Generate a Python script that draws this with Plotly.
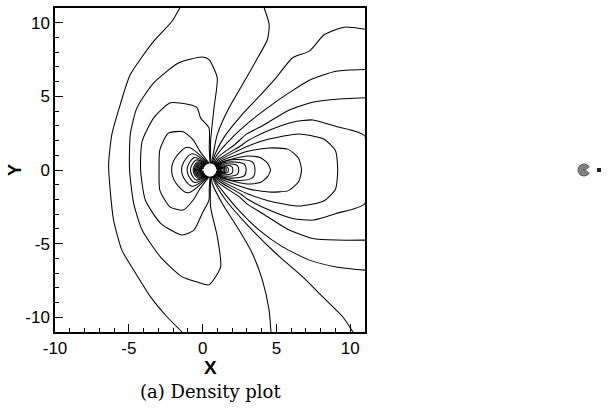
import math
import plotly.graph_objects as go

# ---------------- traced contour lines (data coordinates) ----------------
A_x = [-1.55, -2.07, -3.31, -4.9, -5.58, -6.15, -6.37, -6.25, -6.03, -5.47, -4.67, -3.54, -2.4, -1.39]
A_y = [11.0, 10.1, 8.75, 6.48, 4.44, 2.4, 0.36, -1.5, -3.4, -5.44, -6.8, -8.6, -9.98, -11.0]

B_x = [0.547, 0.54, 0.77, 0.99, 0.43, -0.03, -1.61, -3.31, -4.45, -4.9, -4.95, -4.67, -4.1, -2.86, -1.39, -0.37, 0.43, 1.22, 0.99, 0.54, 0.547]
B_y = [0.448, 1.95, 4.2, 6.26, 7.5, 7.67, 7.28, 5.92, 4.22, 2.4, 0.0, -2.27, -4.08, -5.9, -7.26, -7.6, -7.8, -6.58, -4.5, -2.5, -0.448]

C_x = [0.5, 0.45, 0.43, -0.14, -0.37, -0.93, -2.18, -3.31, -4.1, -4.2, -3.88, -2.86, -1.39, -0.59, -0.03, 0.43, 0.45, 0.5]
C_y = [0.45, 1.5, 2.86, 3.54, 4.22, 4.44, 4.56, 3.54, 1.95, 0.0, -2.04, -3.6, -4.42, -4.08, -2.95, -2.04, -1.3, -0.45]

D_x = [0.445, -0.2, -0.64, -1.32, -2.34, -2.9, -2.95, -2.9, -2.22, -1.32, -0.64, -0.2, 0.445]
D_y = [0.447, 1.3, 2.04, 2.6, 2.49, 1.36, 0.0, -1.36, -2.5, -2.72, -2.04, -1.3, -0.447]

F1_x = [0.594, 0.72, 0.99, 1.79, 2.7, 3.6, 4.39, 4.51, 4.17]
F1_y = [0.44, 1.1, 2.4, 4.22, 5.8, 7.39, 8.86, 9.88, 11.0]
F2_x = [0.639, 0.85, 1.5, 2.7, 3.83, 4.97, 6.1, 7.23, 8.25, 9.61, 11.0]
F2_y = [0.428, 1.1, 2.3, 3.8, 5.0, 6.26, 7.62, 8.07, 9.2, 9.7, 9.55]
F3_x = [0.676, 0.95, 1.9, 3.15, 4.51, 5.87, 7.23, 9.05, 11.0]
F3_y = [0.414, 1.0, 2.1, 3.25, 4.3, 5.25, 6.1, 6.7, 6.82]
F4_x = [0.711, 1.05, 2.2, 3.0, 4.05, 5.87, 7.46, 9.05, 11.0]
F4_y = [0.397, 0.88, 1.75, 2.45, 3.0, 4.08, 4.6, 4.8, 4.9]

G1_x = [0.594, 0.65, 1.33, 2.47, 3.37, 4.05, 4.5, 4.63]
G1_y = [-0.44, -0.9, -2.27, -4.08, -5.67, -7.48, -9.5, -11.0]
G2_x = [0.639, 0.9, 1.56, 3.15, 4.97, 6.78, 8.14, 9.5, 10.18]
G2_y = [-0.428, -1.0, -2.04, -3.86, -5.67, -7.26, -8.62, -9.98, -11.0]
G3_x = [0.676, 0.95, 2.24, 3.83, 5.42, 7.23, 9.05, 11.0]
G3_y = [-0.414, -0.9, -2.5, -4.08, -5.22, -6.12, -6.58, -6.8]
G4_x = [0.711, 1.05, 2.47, 3.0, 4.05, 5.87, 7.46, 9.05, 11.0]
G4_y = [-0.397, -0.85, -1.81, -2.3, -2.95, -4.08, -4.65, -4.76, -4.76]

R4_x = [0.745, 1.15, 2.6, 3.0, 4.51, 6.1, 7.46, 9.05, 11.0, 11.0, 9.05, 7.46, 6.1, 4.51, 3.0, 2.6, 1.15, 0.745]
R4_y = [0.377, 0.78, 1.65, 1.95, 2.7, 3.25, 3.4, 2.95, 2.3, -2.27, -2.95, -3.4, -3.29, -2.72, -1.95, -1.65, -0.78, -0.377]
R3_x = [0.777, 1.25, 3.0, 4.5, 6.5, 8.2, 9.0, 9.15, 9.0, 8.2, 6.5, 4.5, 3.0, 1.25, 0.777]
R3_y = [0.355, 0.72, 1.6, 2.1, 2.45, 2.1, 1.3, 0.0, -1.3, -2.1, -2.45, -2.1, -1.6, -0.72, -0.355]
R2_x = [0.801, 1.35, 3.0, 4.5, 5.8, 6.5, 6.7, 6.5, 5.8, 4.5, 3.0, 1.35, 0.801]
R2_y = [0.334, 0.66, 1.25, 1.5, 1.4, 0.8, 0.0, -0.8, -1.4, -1.5, -1.25, -0.66, -0.334]
R1_x = [0.824, 1.45, 3.0, 3.9, 4.4, 4.6, 4.4, 3.9, 3.0, 1.45, 0.824]
R1_y = [0.313, 0.6, 0.95, 0.85, 0.45, 0.0, -0.45, -0.85, -0.95, -0.6, -0.313]

# small closed loops hugging the body: crossing of the x axis and attachment angle (deg)
left_ext = [-2.1, -1.43, -1.05, -0.82, -0.64, -0.56, -0.48, -0.41, -0.34, -0.28, -0.23, -0.18, -0.14, -0.1]
left_att = [104, 109, 114, 119, 124, 129, 134, 139, 144, 149, 154, 159, 164, 169]
right_ext = [3.55, 2.95, 2.45, 2.05, 1.75, 1.6, 1.5, 1.4, 1.3, 1.22, 1.15, 1.08, 1.02]
right_att = [42, 39.5, 37, 34.5, 32, 29.5, 27, 24.5, 22, 19.5, 17, 14.5, 12]

x_ticks = [-10, -5, 0, 5, 10]
y_ticks = [-10, -5, 0, 5, 10]
tick_text = ["-10", "-5", "0", "5", "10"]

CX, RB = 0.5, 0.45   # body centre and radius where the lines stop

lines = [(A_x, A_y), (B_x, B_y), (C_x, C_y), (D_x, D_y),
         (F1_x, F1_y), (F2_x, F2_y), (F3_x, F3_y), (F4_x, F4_y),
         (G1_x, G1_y), (G2_x, G2_y), (G3_x, G3_y), (G4_x, G4_y),
         (R4_x, R4_y), (R3_x, R3_y), (R2_x, R2_y), (R1_x, R1_y)]

fig = go.Figure()
LW = 1.05
LINE = dict(color="black", width=LW, shape="spline", smoothing=0.6)
for lx, ly in lines:
    fig.add_trace(go.Scatter(x=lx, y=ly, mode="lines", line=LINE, hoverinfo="skip", showlegend=False))


def polar(ang, r):
    a = math.radians(ang)
    return CX + r * math.cos(a), r * math.sin(a)


def loop(ext, att, left):
    d = abs(ext - CX)
    end = 180.0 if left else 0.0
    pts = [polar(att, RB),
           polar(att + 0.4 * (end - att), RB + (0.8 if left else 0.45) * (d - RB)),
           polar(att + 0.75 * (end - att), RB + 0.95 * (d - RB)),
           (ext, 0.0)]
    down = [(px, -py) for px, py in reversed(pts[:-1])]
    allp = pts + down
    return [p[0] for p in allp], [p[1] for p in allp]


for e, a in zip(left_ext, left_att):
    lx, ly = loop(e, a, True)
    fig.add_trace(go.Scatter(x=lx, y=ly, mode="lines", line=dict(LINE, smoothing=0.9), hoverinfo="skip", showlegend=False))
for e, a in zip(right_ext, right_att):
    lx, ly = loop(e, a, False)
    fig.add_trace(go.Scatter(x=lx, y=ly, mode="lines", line=dict(LINE, smoothing=0.9), hoverinfo="skip", showlegend=False))

# tiny thumbnail at the right edge of the page
fig.add_trace(go.Scatter(x=[7], y=[0], xaxis="x2", yaxis="y2", mode="markers",
                         marker=dict(symbol="circle", size=13, color="#555555", line=dict(width=0)),
                         hoverinfo="skip", showlegend=False))
fig.add_trace(go.Scatter(x=[7, 7, 7], y=[0, 0, 0], xaxis="x2", yaxis="y2", mode="markers",
                         marker=dict(symbol="circle-open", size=[10, 7, 4], color="#bbbbbb", line=dict(width=1)),
                         hoverinfo="skip", showlegend=False))
fig.add_trace(go.Scatter(x=[13], y=[0], xaxis="x2", yaxis="y2", mode="markers",
                         marker=dict(symbol="triangle-left", size=8, color="white"),
                         hoverinfo="skip", showlegend=False))
fig.add_trace(go.Scatter(x=[22], y=[0], xaxis="x2", yaxis="y2", mode="markers",
                         marker=dict(symbol="square", size=4, color="#222222"),
                         hoverinfo="skip", showlegend=False))

tick_font = dict(family="Liberation Sans, Arial, sans-serif", size=17, color="black")
axis_common = dict(showgrid=False, zeroline=False, showline=True, linecolor="black", linewidth=1.5,
                   mirror=True, ticks="inside", ticklen=8, tickwidth=1, tickcolor="black",
                   tickfont=tick_font, tickmode="array",
                   minor=dict(ticks="inside", ticklen=4, tickwidth=1, tickcolor="black",
                              tickmode="linear", tick0=0, dtick=1, showgrid=False))

fig.update_layout(
    width=610, height=408,
    margin=dict(l=55, r=0, t=8, b=76),
    paper_bgcolor="white", plot_bgcolor="white",
    showlegend=False,
    xaxis=dict(range=[-10, 11], tickvals=x_ticks, ticktext=tick_text, domain=[0, 310 / 555], **axis_common),
    yaxis=dict(range=[-11, 11], tickvals=y_ticks, ticktext=tick_text, **axis_common),
    xaxis2=dict(domain=[(577 - 55) / 555, 1.0], range=[0, 33], visible=False, anchor="y2"),
    yaxis2=dict(domain=[(332 - 177) / 324, (332 - 163) / 324], range=[-7, 7], visible=False, anchor="x2"),
    annotations=[
        dict(text="<b>X</b>", xref="x domain", yref="y domain", x=0.5, y=(332 - 367) / 324,
             showarrow=False, font=dict(family="Liberation Sans, Arial, sans-serif", size=19, color="black"),
             xanchor="center", yanchor="middle"),
        dict(text="<b>Y</b>", xref="x domain", yref="y domain", x=(15 - 55) / 310, y=0.5, textangle=-90,
             showarrow=False, font=dict(family="Liberation Sans, Arial, sans-serif", size=18, color="black"),
             xanchor="center", yanchor="middle"),
        dict(text="(a) Density plot", xref="x domain", yref="y domain", x=(211 - 55) / 310, y=(332 - 391) / 324,
             showarrow=False, font=dict(family="DejaVu Serif, Liberation Serif, serif", size=18, color="black"),
             xanchor="center", yanchor="middle"),
    ],
)

fig.write_html("out.html")
